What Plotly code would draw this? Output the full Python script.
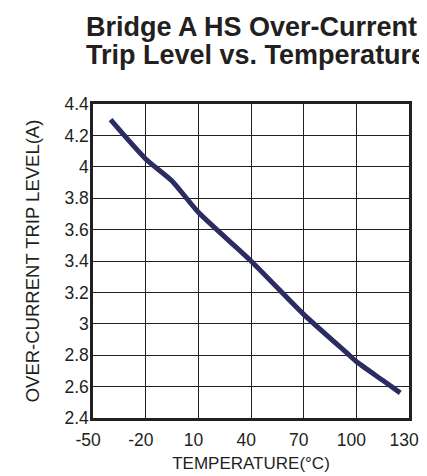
import plotly.graph_objects as go

temperature = [-40, -20, -5, 10, 40, 70, 95, 100, 115, 125]
trip_level = [4.30, 4.05, 3.91, 3.71, 3.40, 3.06, 2.81, 2.76, 2.64, 2.56]
x_ticks = [-50, -20, 10, 40, 70, 100, 130]
x_tick_text = ["-50", "-20", "10", "40", "70", "100", "130"]
y_ticks = [2.4, 2.6, 2.8, 3.0, 3.2, 3.4, 3.6, 3.8, 4.0, 4.2, 4.4]
y_tick_text = ["2.4", "2.6", "2.8", "3", "3.2", "3.4", "3.6", "3.8", "4", "4.2", "4.4"]
title_lines = ["Bridge A HS Over-Current", "Trip Level vs. Temperature"]

fig = go.Figure()
fig.add_trace(go.Scatter(
    x=temperature, y=trip_level, mode="lines",
    line=dict(color="#2b2d62", width=5, shape="spline", smoothing=0.6),
    showlegend=False, hoverinfo="skip",
))

font_family = "Liberation Sans, Arial, sans-serif"
text_color = "#231f20"
annotations = []
for i, line in enumerate(title_lines):
    annotations.append(dict(
        text="<b>%s</b>" % line,
        xref="paper", yref="paper", x=0, y=1.0, xshift=-9, yshift=77 - 28 * i,
        xanchor="left", yanchor="middle", align="left", showarrow=False,
        font=dict(family=font_family, size=27, color=text_color),
    ))

fig.update_layout(
    width=427, height=476,
    margin=dict(l=85, r=26, t=96, b=66),
    paper_bgcolor="white", plot_bgcolor="white",
    font=dict(family=font_family, size=17.5, color=text_color),
    annotations=annotations,
)
fig.update_xaxes(
    range=[-50, 130], tickvals=x_ticks,
    ticktext=[t + "\u00a0\u00a0" for t in x_tick_text],
    showgrid=True, gridcolor=text_color, gridwidth=1.3,
    showline=True, linecolor=text_color, linewidth=2.5, mirror=True,
    zeroline=False, ticks="", ticklabelstandoff=4, automargin=False,
    title=dict(text="TEMPERATURE(°C)", standoff=9, font=dict(size=17)),
    tickfont=dict(size=17.5),
)
fig.update_yaxes(
    range=[2.4, 4.4], tickvals=y_ticks, ticktext=y_tick_text,
    showgrid=True, gridcolor=text_color, gridwidth=1.3,
    showline=True, linecolor=text_color, linewidth=2.5, mirror=True,
    zeroline=False, ticks="", ticklabelstandoff=-2, automargin=False,
    title=dict(text="OVER-CURRENT TRIP LEVEL(A)", standoff=20, font=dict(size=18.5)),
    tickfont=dict(size=17.5),
)
fig.write_html("out.html")
